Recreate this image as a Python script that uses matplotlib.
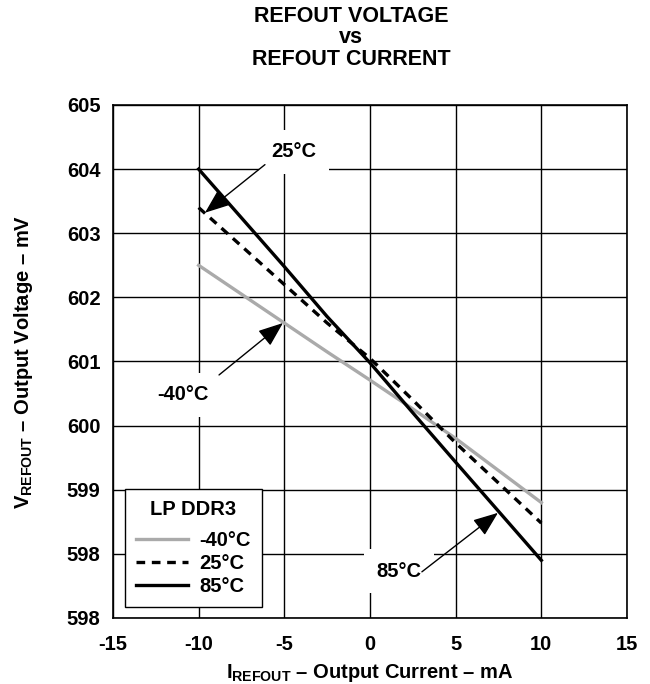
import matplotlib
matplotlib.use("Agg")
import matplotlib.pyplot as plt

plt.rcParams['font.family'] = ['Liberation Sans', 'DejaVu Sans']
plt.rcParams['font.weight'] = 'bold'
plt.rcParams['axes.labelweight'] = 'bold'
plt.rcParams['axes.unicode_minus'] = False
plt.rcParams['mathtext.fontset'] = 'custom'
plt.rcParams['mathtext.rm'] = 'Liberation Sans:bold'
plt.rcParams['mathtext.bf'] = 'Liberation Sans:bold'

# data (current in mA, voltage in mV)
current = [-10, -5, -2.5, 0, 2.5, 5, 10]
v_m40 = [602.5, 601.6, 601.15, 600.71, 600.26, 599.8, 598.8]
v_25 = [603.4, 602.2, 601.6, 601.05, 600.4, 599.73, 598.48]
v_85 = [604.0, 602.48, 601.7, 600.98, 600.2, 599.43, 597.9]

yticks = [597, 598, 599, 600, 601, 602, 603, 604, 605]
ytick_labels = ['598', '598', '599', '600', '601', '602', '603', '604', '605']
xticks = [-15, -10, -5, 0, 5, 10, 15]

FS = 14.5

fig = plt.figure(figsize=(6.5, 6.84), dpi=100)
ax = fig.add_axes([0.1738, 0.0965, 0.7908, 0.75])

ax.plot(current, v_m40, color='#aaaaaa', lw=2.4, label='-40°C', zorder=3)
ax.plot(current, v_25, color='black', lw=2.4, ls=(0, (2.6, 2.0)), label='25°C', zorder=4)
ax.plot(current, v_85, color='black', lw=2.4, label='85°C', zorder=5)

ax.set_xlim(-15, 15)
ax.set_ylim(597, 605)
ax.set_xticks(xticks)
ax.set_yticks(yticks)
ax.set_yticklabels(ytick_labels)
ax.tick_params(length=0, labelsize=FS, pad=9)
ax.tick_params(axis='x', pad=12)
ax.grid(True, color='black', lw=1.0, zorder=0)
ax.set_axisbelow(True)
for s in ax.spines.values():
    s.set_linewidth(1.2)

ax.set_xlabel(r'$\mathrm{I}_{\mathrm{REFOUT}}$ – Output Current – mA', fontsize=FS, labelpad=6)
ax.set_ylabel(r'$\mathrm{V}_{\mathrm{REFOUT}}$ – Output Voltage – mV', fontsize=FS, labelpad=23)

fig.text(0.54, 1 - 22 / 684, 'REFOUT VOLTAGE', ha='center', va='baseline', fontsize=15.5)
fig.text(0.54, 1 - 43 / 684, 'vs', ha='center', va='baseline', fontsize=15.5)
fig.text(0.54, 1 - 65 / 684, 'REFOUT CURRENT', ha='center', va='baseline', fontsize=15.5)

arrow = dict(arrowstyle='-|>,head_length=0.9,head_width=0.35', color='black',
             lw=1.0, mutation_scale=17, shrinkA=0, shrinkB=0)
box = dict(facecolor='white', edgecolor='none', pad=9)

ax.text(-4.43, 604.27, '25°C', ha='center', va='center', fontsize=FS, bbox=box, zorder=2)
ax.annotate('', xy=(-9.63, 603.32), xytext=(-6.13, 604.07), arrowprops=arrow, zorder=6)

ax.text(-10.9, 600.48, '-40°C', ha='center', va='center', fontsize=FS, bbox=box, zorder=2)
ax.annotate('', xy=(-5.08, 601.6), xytext=(-8.81, 600.79), arrowprops=arrow, zorder=6)

ax.text(1.69, 597.73, '85°C', ha='center', va='center', fontsize=FS, bbox=box, zorder=2)
ax.annotate('', xy=(7.47, 598.64), xytext=(3.03, 597.72), arrowprops=arrow, zorder=6)

leg = ax.legend(title='LP DDR3', loc='lower left', bbox_to_anchor=(0.023, 0.021),
                borderaxespad=0, fontsize=FS, title_fontsize=FS, fancybox=False,
                framealpha=1, edgecolor='black', handlelength=2.6, handletextpad=0.55,
                labelspacing=0.2, borderpad=0.55)
leg.get_frame().set_linewidth(1.0)
leg.get_title().set_fontweight('bold')
leg._legend_box.sep = 9

fig.savefig('out.png', dpi=100)
